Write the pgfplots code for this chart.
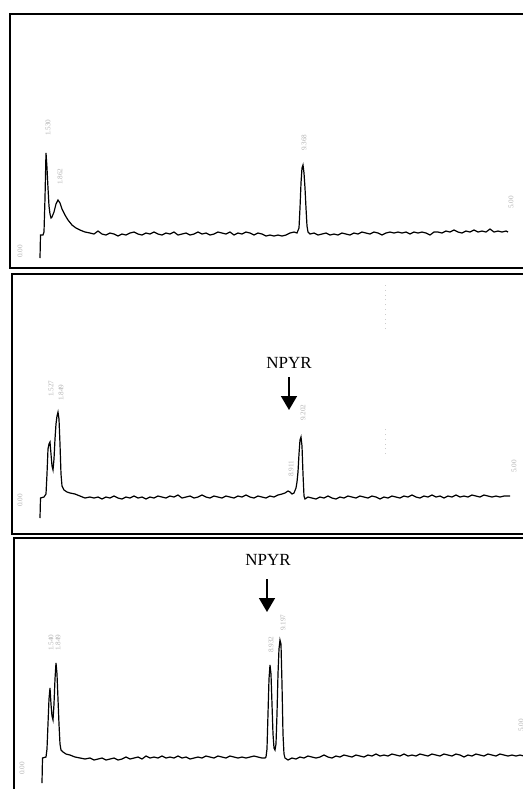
\documentclass[border=0pt]{standalone}
\usepackage{fontspec}
\setmainfont{Liberation Serif}
\usepackage{pgfplots}
\pgfplotsset{compat=1.18}
\usetikzlibrary{arrows.meta}

% 1px of the scan = 0.5pt; x data in px, y data = height above panel bottom in px
\pgfplotsset{chrom/.style={
  scale only axis, clip=false,
  xtick=\empty, ytick=\empty,
  ymin=0,
  axis line style={line width=1pt, black}
}, trace/.style={black, line width=0.6pt, mark=none}}
\newcommand{\rt}[1]{{\fontsize{3.6}{4}\selectfont\textcolor{gray!60}{#1}}}

\begin{document}
\begin{tikzpicture}
\path[use as bounding box] (0pt,0pt) rectangle (261.5pt,-394.5pt);

% ---- panel 1: standard
\begin{axis}[chrom, at={(5pt,-7pt)}, anchor=north west,
  width=257pt, height=127pt, xmin=10, xmax=524, ymax=254]
\addplot[trace] coordinates {
(40,10)(40.5,33)(43,33)(44,36)(45,70)(46,115)(47,100)(48,80)(49,62)(50,54)(51,50)(52,51)
(54,56)(56,64)(58,68)(60,65)(62,59)(65,53)(68,48)(72,43)(76,40)(80,38)(85,36)(90,35)
(94,34)(98,37)(102,34)(106,33)(110,35)(114,34)(118,32)(122,34)(126,33)(130,35)(134,36)
(138,34)(142,33)(146,35)(150,34)(154,36)(158,34)(162,33)(166,35)(170,34)(174,36)(178,33)
(182,34)(186,35)(190,33)(194,34)(198,36)(202,34)(206,35)(210,33)(214,34)(218,36)(222,35)
(226,34)(230,36)(234,33)(238,35)(242,34)(246,36)(250,35)(254,33)(258,35)(262,34)(266,32)
(270,33)(274,32)(278,33)(282,32)(286,33)(290,35)(294,36)(297,35)(299,40)(300,60)(301,85)
(302,100)(303,103)(304,95)(305,80)(306,60)(307,42)(308,36)(310,34)(314,35)(318,33)(322,34)
(326,35)(330,33)(334,34)(338,33)(342,35)(346,34)(350,33)(354,35)(358,34)(362,36)(366,35)
(370,34)(374,36)(378,35)(382,33)(386,35)(390,36)(394,35)(398,36)(402,35)(406,36)(410,34)
(414,36)(418,35)(422,36)(426,35)(430,33)(434,36)(438,36)(442,35)(446,37)(450,36)(454,38)
(458,36)(462,35)(466,37)(470,36)(474,38)(478,36)(482,37)(486,36)(490,39)(494,36)(498,37)
(502,36)(506,37)(508,36)
};
\node[rotate=90, anchor=west] at (axis cs:48,125) {\rt{1.530}};
\node[rotate=90, anchor=west] at (axis cs:60,76) {\rt{1.862}};
\node[rotate=90, anchor=west] at (axis cs:304,110) {\rt{9.368}};
\node[rotate=90, anchor=west] at (axis cs:511,52) {\rt{5.00}};
\node[rotate=90, anchor=west] at (axis cs:20,3) {\rt{0.00}};
\end{axis}

% ---- panel 2: sample with NPYR
\begin{axis}[chrom, at={(6pt,-137pt)}, anchor=north west,
  width=256pt, height=130pt, xmin=12, xmax=524, ymax=260]
\addplot[trace] coordinates {
(40,16)(40.5,36)(44,37)(46,40)(47,60)(48,85)(49,90)(50,92)(51,80)(52,68)(53,64)(54,75)
(55,95)(56,110)(57,118)(58,122)(59,115)(60,90)(61,60)(62,48)(64,44)(67,42)(70,41)(75,40)
(80,38)(85,36)(90,37)(94,36)(98,37)(102,35)(106,37)(110,36)(114,38)(118,36)(122,35)
(126,37)(130,36)(134,38)(138,36)(142,37)(146,35)(150,37)(154,36)(158,38)(162,37)(166,36)
(170,38)(174,37)(178,39)(182,36)(186,37)(190,38)(194,36)(198,37)(202,39)(206,37)(210,36)
(214,38)(218,37)(222,36)(226,38)(230,37)(234,36)(238,38)(242,37)(246,39)(250,37)(254,36)
(258,38)(262,37)(266,36)(270,38)(274,37)(278,39)(282,40)(285,41)(288,43)(290,42)(292,40)
(294,41)(296,46)(297,52)(298,62)(299,80)(300,94)(301,97)(302,88)(303,60)(304,38)(305,35)
(308,37)(312,36)(316,35)(320,37)(324,36)(328,38)(332,36)(336,35)(340,37)(344,36)(348,38)
(352,37)(356,36)(360,38)(364,37)(368,36)(372,38)(376,37)(380,35)(384,37)(388,36)(392,38)
(396,37)(400,36)(404,38)(408,37)(412,39)(416,37)(420,36)(424,38)(428,37)(432,39)(436,37)
(440,38)(444,36)(448,38)(452,37)(456,39)(460,37)(464,38)(468,37)(472,39)(476,38)(480,37)
(484,39)(488,38)(492,37)(496,38)(500,37)(504,38)(510,38)
};
\node[rotate=90, anchor=west] at (axis cs:51,130) {\rt{1.527}};
\node[rotate=90, anchor=west] at (axis cs:61,126) {\rt{1.849}};
\node[rotate=90, anchor=west] at (axis cs:303,106) {\rt{9.202}};
\node[rotate=90, anchor=west] at (axis cs:291,50) {\rt{8.911}};
\node[rotate=90, anchor=west] at (axis cs:514,54) {\rt{5.00}};
\node[rotate=90, anchor=west] at (axis cs:20,20) {\rt{0.00}};
\draw[gray!40, dotted] (axis cs:385,205) -- (axis cs:385,250);
\draw[gray!40, dotted] (axis cs:385,80) -- (axis cs:385,105);
\node[font=\fontsize{8.5}{10}\selectfont] at (axis cs:289,171) {NPYR};
\draw[line width=0.8pt, -{Triangle[width=8pt,length=7pt]}]
  (axis cs:289,157) -- (axis cs:289,124);
\end{axis}

% ---- panel 3: spiked sample with NPYR
\begin{axis}[chrom, at={(7pt,-269pt)}, anchor=north west,
  width=258pt, height=128pt, xmin=14, xmax=530, ymax=256]
\addplot[trace] coordinates {
(42,11)(42.5,36)(46,37)(47,45)(48,70)(49,95)(50,106)(51,90)(52,78)(53,74)(54,90)(55,115)
(56,131)(57,120)(58,95)(59,70)(60,50)(61,44)(63,42)(66,40)(70,39)(75,37)(80,36)(85,35)
(90,36)(94,34)(98,35)(102,36)(106,34)(110,35)(114,36)(118,34)(122,35)(126,37)(130,35)
(134,36)(138,37)(142,35)(146,38)(150,36)(154,37)(158,36)(162,38)(166,36)(170,37)(174,36)
(178,38)(182,36)(186,37)(190,35)(194,36)(198,37)(202,36)(206,38)(210,37)(214,36)(218,38)
(222,37)(226,36)(230,38)(234,37)(238,36)(242,37)(246,36)(250,37)(254,38)(258,37)(262,36)
(265,36)(266,37)(267,45)(268,80)(269,115)(270,129)(271,120)(272,90)(273,60)(274,46)
(275,44)(276,50)(277,80)(278,120)(279,145)(280,154)(281,150)(282,110)(283,60)(284,40)
(285,36)(288,34)(292,36)(296,35)(300,37)(304,36)(308,38)(312,37)(316,36)(320,37)(324,39)
(328,37)(332,36)(336,38)(340,37)(344,39)(348,38)(352,37)(356,39)(360,38)(364,37)(368,39)
(372,38)(376,40)(380,38)(384,39)(388,38)(392,40)(396,39)(400,38)(404,40)(408,38)(412,39)
(416,38)(420,40)(424,39)(428,38)(432,40)(436,39)(440,38)(444,40)(448,39)(452,38)(456,40)
(460,39)(464,37)(468,39)(472,38)(476,40)(480,39)(484,38)(488,40)(492,39)(496,38)(500,40)
(504,39)(508,38)(512,39)(516,38)(520,39)(524,38)
};
\node[rotate=90, anchor=west] at (axis cs:51,136) {\rt{1.540}};
\node[rotate=90, anchor=west] at (axis cs:58,136) {\rt{1.849}};
\node[rotate=90, anchor=west] at (axis cs:271,134) {\rt{8.932}};
\node[rotate=90, anchor=west] at (axis cs:283,156) {\rt{9.197}};
\node[rotate=90, anchor=west] at (axis cs:521,55) {\rt{5.00}};
\node[rotate=90, anchor=west] at (axis cs:22,12) {\rt{0.00}};
\node[font=\fontsize{8.5}{10}\selectfont] at (axis cs:268,234) {NPYR};
\draw[line width=0.8pt, -{Triangle[width=8pt,length=7pt]}]
  (axis cs:267,215) -- (axis cs:267,182);
\end{axis}
\end{tikzpicture}
\end{document}
